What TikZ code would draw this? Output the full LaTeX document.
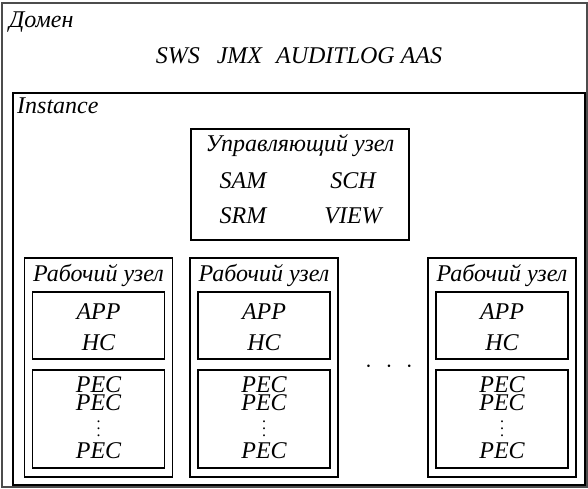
\documentclass[tikz,border=0pt]{standalone}
\usepackage{fontspec}
\setmainfont{Liberation Serif}
\newcommand{\mydots}{\vbox{\baselineskip7pt\lineskiplimit0pt\hbox{.}\hbox{.}\hbox{.}}}
\begin{document}
\begin{tikzpicture}[x=1pt,y=-1pt,
  box/.style={draw=black,line width=1.8pt,rectangle,inner sep=0pt},
  lbl/.style={font=\fontsize{24}{24}\selectfont\itshape,inner sep=0pt,anchor=base},
  lblw/.style={lbl,anchor=base west}]
\useasboundingbox (0,0) rectangle (588,488);
% outer domain
\node[draw=black!70,line width=1.2pt,rectangle,inner sep=0pt,minimum width=585pt,minimum height=484pt] (dom) at (294.5,245) {};
\node[lblw] (domt) at (9,27) {Домен};
\node[lbl] (svc) at (299,63) {SWS\hspace{17pt}JMX\hspace{14pt}AUDITLOG AAS};
% instance
\node[box,minimum width=572pt,minimum height=392pt] (inst) at (299,289) {};
\node[lblw] (instt) at (17,113) {Instance};
% control node
\node[box,minimum width=218pt,minimum height=111pt] (ctl) at (300,184.5) {};
\node[lbl] (ctlt) at (300,151) {Управляющий узел};
\node[lbl] (sam) at (243,188) {SAM};
\node[lbl] (sch) at (353,188) {SCH};
\node[lbl] (srm) at (243,223) {SRM};
\node[lbl] (view) at (353,223) {VIEW};
% workers
\foreach \i/\cx in {1/98.5,2/264,3/502}{
  \node[box,minimum width=148pt,minimum height=219pt] (w\i) at (\cx,367.5) {};
  \node[lbl] (w\i t) at (\cx,281) {Рабочий узел};
  \node[box,minimum width=132pt,minimum height=67pt] (a\i) at (\cx,325.5) {};
  \node[lbl] (app\i) at (\cx,319) {APP};
  \node[lbl] (hc\i) at (\cx,350) {HC};
  \node[box,minimum width=132pt,minimum height=98pt] (p\i) at (\cx,419) {};
  \node[lbl] (pa\i) at (\cx,392) {PEC};
  \node[lbl] (pb\i) at (\cx,410) {PEC};
  \node[lbl,font=\fontsize{16}{16}\selectfont\upshape] (pd\i) at (\cx,436.5) {\mydots};
  \node[lbl] (pc\i) at (\cx,458) {PEC};
}
\node[lbl] (dots) at (389,372) {$\cdot\hspace{8pt}\cdot\hspace{8pt}\cdot$};
\end{tikzpicture}
\end{document}
